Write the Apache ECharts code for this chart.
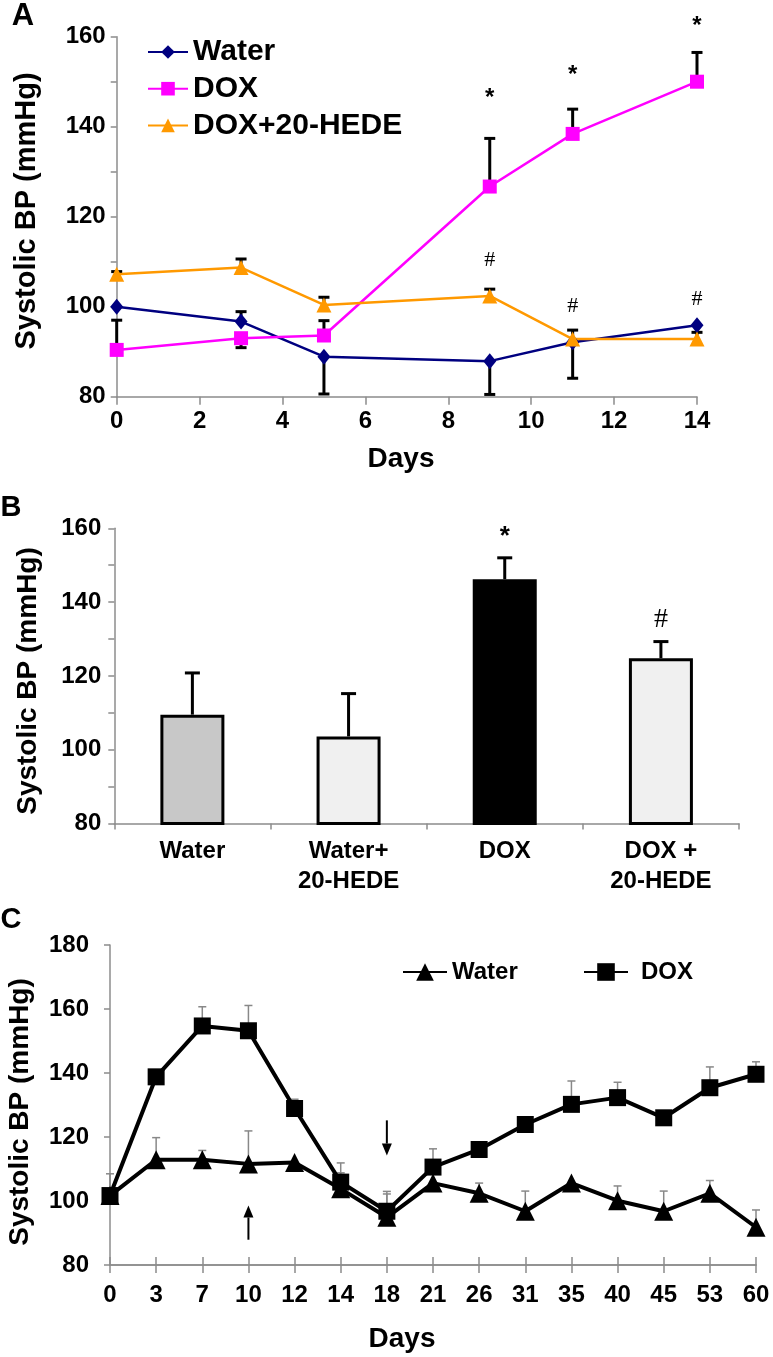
<!DOCTYPE html>
<html><head><meta charset="utf-8">
<script src="https://cdn.jsdelivr.net/npm/echarts@6/dist/echarts.min.js"></script>
<style>html,body{margin:0;padding:0;background:#fff}#c{width:773px;height:1357px}</style>
</head><body><div id="c"></div>
<script>
// ---------- Panel A data ----------
const A_xTicks = [0, 2, 4, 6, 8, 10, 12, 14];
const A_yTicks = [80, 100, 120, 140, 160];
const A_days = [0, 3, 5, 9, 11, 14];
const A_water = [100.0, 96.7, 88.9, 87.9, 92.1, 95.9];
const A_dox = [90.4, 93.0, 93.6, 126.7, 138.4, 150.0];
const A_hede = [107.2, 108.7, 100.4, 102.4, 92.8, 92.8];
const A_waterErrEnd = [null, 98.9, 80.6, 80.5, 84.1, null];
const A_doxErrEnd = [97.0, 90.9, 96.9, 137.4, 143.9, 156.5];
const A_hedeErrEnd = [107.8, 110.6, 102.1, 103.9, 94.8, 94.3];
const A_starDays = [9, 11, 14];
const A_starY = [146.3, 151.5, 162.2];
const A_hashDays = [9, 11, 14];
const A_hashY = [110.4, 100.0, 101.6];

// ---------- Panel B data ----------
const B_yTicks = [80, 100, 120, 140, 160];
const B_groups = ['Water', 'Water+\n20-HEDE', 'DOX', 'DOX +\n20-HEDE'];
const B_means = [109.5, 103.6, 146.2, 124.8];
const B_errTop = [120.8, 115.2, 152.0, 129.3];
const B_starIdx = [2];
const B_starY = [157.6];
const B_hashIdx = [3];
const B_hashY = [135.2];

// ---------- Panel C data ----------
const C_yTicks = [80, 100, 120, 140, 160, 180];
const C_days = ['0', '3', '7', '10', '12', '14', '18', '21', '26', '31', '35', '40', '45', '53', '60'];
const C_water = [101.7, 112.9, 112.9, 111.6, 112.0, 103.8, 94.9, 105.6, 102.4, 96.8, 105.6, 100.1, 96.8, 102.4, 91.8];
const C_dox = [101.7, 138.8, 154.7, 153.2, 128.9, 105.9, 96.8, 110.6, 116.1, 123.9, 130.2, 132.3, 126.0, 135.4, 139.6];
const C_waterErrTop = [108.5, 119.8, 115.8, 121.9, null, 108.8, 102.2, null, 105.6, 103.1, null, 104.7, 103.1, 106.4, 97.2];
const C_doxErrTop = [null, null, 160.7, 161.1, 131.8, 111.9, 103.0, 116.3, null, null, 137.5, 137.1, null, 141.9, 143.5];
const C_arrowIdx = [6, 3];
const C_arrowFrom = [125.2, 87.9];
const C_arrowTo = [114.2, 98.6];

// ---------- styles ----------
const FF = '"Liberation Sans", Arial, Helvetica, sans-serif';
const AX = '#8c8c8c';
const NAVY = '#000080', MAG = '#ff00ff', ORG = '#ff9900';
const B_fill = ['#c8c8c8', '#f0f0f0', '#000000', '#f0f0f0'];

function pairs(xs, ys) { return xs.map((x, i) => [x, ys[i]]); }
function errData(xs, base, end) {
  const out = [];
  xs.forEach((x, i) => { if (end[i] != null) out.push([x, base[i], end[i]]); });
  return out;
}
function errRender(color, lw, capW) {
  return function (params, api) {
    const p0 = api.coord([api.value(0), api.value(1)]);
    const p1 = api.coord([api.value(0), api.value(2)]);
    return { type: 'group', children: [
      { type: 'line', shape: { x1: p0[0], y1: p0[1], x2: p1[0], y2: p1[1] }, style: { stroke: color, lineWidth: lw } },
      { type: 'line', shape: { x1: p1[0] - capW / 2, y1: p1[1], x2: p1[0] + capW / 2, y2: p1[1] }, style: { stroke: color, lineWidth: lw } }
    ]};
  };
}
function textRender(txt, font) {
  return function (params, api) {
    const p = api.coord([api.value(0), api.value(1)]);
    return { type: 'text', x: p[0], y: p[1], style: { text: txt, font: font, fill: '#000', align: 'center', verticalAlign: 'middle' } };
  };
}
function arrowRender(params, api) {
  const p0 = api.coord([api.value(0), api.value(1)]);
  const p1 = api.coord([api.value(0), api.value(2)]);
  const dir = p1[1] > p0[1] ? 1 : -1;
  const hl = 12, hw = 5;
  return { type: 'group', children: [
    { type: 'line', shape: { x1: p0[0], y1: p0[1], x2: p1[0], y2: p1[1] - dir * hl }, style: { stroke: '#000', lineWidth: 2 } },
    { type: 'polygon', shape: { points: [[p1[0], p1[1]], [p1[0] - hw, p1[1] - dir * hl], [p1[0] + hw, p1[1] - dir * hl]] }, style: { fill: '#000' } }
  ]};
}
function yAxisCfg(grid, ticks, margin, minor) {
  return {
    type: 'value', gridIndex: grid, min: ticks[0], max: ticks[ticks.length - 1], interval: ticks[1] - ticks[0],
    axisLine: { show: true, lineStyle: { color: AX, width: 1.5 } },
    axisTick: { show: true, length: 6, lineStyle: { color: AX, width: 1.5 } },
    minorTick: { show: minor, splitNumber: 2, length: 6, lineStyle: { color: AX, width: 1.5 } },
    splitLine: { show: false }, minorSplitLine: { show: false },
    axisLabel: { margin: margin, color: '#000', fontFamily: FF, fontWeight: 'bold', fontSize: 24 }
  };
}

const chart = echarts.init(document.getElementById('c'), null, { renderer: 'canvas', width: 773, height: 1357 });

const option = {
  animation: false,
  backgroundColor: '#fff',
  grid: [
    { left: 116.7, top: 36.7, width: 580.3, height: 360 },
    { left: 114.3, top: 528.3, width: 624.7, height: 295.2 },
    { left: 110, top: 945, width: 646, height: 320 }
  ],
  xAxis: [
    { type: 'value', gridIndex: 0, min: A_xTicks[0], max: A_xTicks[A_xTicks.length - 1], interval: A_xTicks[1] - A_xTicks[0],
      axisLine: { show: true, onZero: false, lineStyle: { color: AX, width: 1.5 } },
      axisTick: { show: true, length: 8, lineStyle: { color: AX, width: 1.5 } },
      splitLine: { show: false },
      axisLabel: { margin: 13, color: '#000', fontFamily: FF, fontWeight: 'bold', fontSize: 24 } },
    { type: 'category', gridIndex: 1, data: B_groups, boundaryGap: true,
      axisLine: { show: true, onZero: false, lineStyle: { color: AX, width: 1.5 } },
      axisTick: { show: true, length: 6, lineStyle: { color: AX, width: 1.5 } },
      axisLabel: { margin: 13, color: '#000', fontFamily: FF, fontWeight: 'bold', fontSize: 24, lineHeight: 30, interval: 0 } },
    { type: 'category', gridIndex: 2, data: C_days, boundaryGap: false,
      axisLine: { show: true, onZero: false, lineStyle: { color: AX, width: 1.5 } },
      axisTick: { show: true, length: 8, interval: 0, lineStyle: { color: AX, width: 1.5 } },
      axisLabel: { margin: 18, interval: 0, color: '#000', fontFamily: FF, fontWeight: 'bold', fontSize: 24 } },
    { type: 'category', gridIndex: 2, data: C_days, boundaryGap: false, position: 'bottom',
      axisLine: { show: true, onZero: false, lineStyle: { color: AX, width: 1.5 } },
      axisTick: { show: true, inside: true, length: 8, interval: 0, lineStyle: { color: AX, width: 1.5 } },
      axisLabel: { show: false } }
  ],
  yAxis: [
    yAxisCfg(0, A_yTicks, 11, true),
    yAxisCfg(1, B_yTicks, 13, true),
    yAxisCfg(2, C_yTicks, 21, false)
  ],
  legend: [
    { data: ['Water', 'DOX', 'DOX+20-HEDE'], orient: 'vertical', left: 142, top: 32, itemWidth: 40, itemHeight: 17, itemGap: 6.7,
      textStyle: { fontFamily: FF, fontWeight: 'bold', fontSize: 30, color: '#000', lineHeight: 30 } },
    { data: ['C-Water'], left: 397, top: 955, itemWidth: 44, itemHeight: 22,
      formatter: n => n.replace('C-', ''),
      textStyle: { fontFamily: FF, fontWeight: 'bold', fontSize: 24, color: '#000' } },
    { data: ['C-DOX'], left: 578, top: 955, itemWidth: 44, itemHeight: 22,
      formatter: n => n.replace('C-', ''),
      textStyle: { fontFamily: FF, fontWeight: 'bold', fontSize: 24, color: '#000', padding: [0, 0, 0, 8] } }
  ],
  series: [
    // Panel A error bars
    { type: 'custom', xAxisIndex: 0, yAxisIndex: 0, renderItem: errRender('#000', 3, 11), data: errData(A_days, A_water, A_waterErrEnd), z: 1, silent: true },
    { type: 'custom', xAxisIndex: 0, yAxisIndex: 0, renderItem: errRender('#000', 3, 11), data: errData(A_days, A_dox, A_doxErrEnd), z: 1, silent: true },
    { type: 'custom', xAxisIndex: 0, yAxisIndex: 0, renderItem: errRender('#000', 3, 11), data: errData(A_days, A_hede, A_hedeErrEnd), z: 1, silent: true },
    // Panel A lines
    { name: 'Water', type: 'line', xAxisIndex: 0, yAxisIndex: 0, data: pairs(A_days, A_water), symbol: 'diamond', symbolSize: [13, 16],
      lineStyle: { color: NAVY, width: 2.5 }, itemStyle: { color: NAVY }, z: 3 },
    { name: 'DOX', type: 'line', xAxisIndex: 0, yAxisIndex: 0, data: pairs(A_days, A_dox), symbol: 'rect', symbolSize: 14,
      lineStyle: { color: MAG, width: 2.5 }, itemStyle: { color: MAG }, z: 3 },
    { name: 'DOX+20-HEDE', type: 'line', xAxisIndex: 0, yAxisIndex: 0, data: pairs(A_days, A_hede), symbol: 'triangle', symbolSize: 15,
      lineStyle: { color: ORG, width: 2.5 }, itemStyle: { color: ORG }, z: 3 },
    // Panel A significance marks
    { type: 'custom', xAxisIndex: 0, yAxisIndex: 0, renderItem: textRender('*', 'bold 24px "Liberation Sans", Arial'), data: pairs(A_starDays, A_starY), clip: false, z: 5 },
    { type: 'custom', xAxisIndex: 0, yAxisIndex: 0, renderItem: textRender('#', '22px "Liberation Serif", "Times New Roman", serif'), data: pairs(A_hashDays, A_hashY), clip: false, z: 5 },

    // Panel B bars
    { type: 'bar', xAxisIndex: 1, yAxisIndex: 1, barWidth: 64,
      data: B_means.map((v, i) => ({ value: v, itemStyle: { color: B_fill[i], borderColor: '#000', borderWidth: 3 } })), z: 2 },
    { type: 'custom', xAxisIndex: 1, yAxisIndex: 1, renderItem: errRender('#000', 3, 15), data: B_means.map((v, i) => [i, v, B_errTop[i]]), z: 3 },
    { type: 'custom', xAxisIndex: 1, yAxisIndex: 1, renderItem: textRender('*', 'bold 26px "Liberation Sans", Arial'), data: pairs(B_starIdx, B_starY), clip: false, z: 5 },
    { type: 'custom', xAxisIndex: 1, yAxisIndex: 1, renderItem: textRender('#', '28px "Liberation Serif", "Times New Roman", serif'), data: pairs(B_hashIdx, B_hashY), clip: false, z: 5 },

    // Panel C error bars
    { type: 'custom', xAxisIndex: 2, yAxisIndex: 2, renderItem: errRender('#888', 1.5, 8), data: errData(C_days.map((d, i) => i), C_water, C_waterErrTop), z: 1 },
    { type: 'custom', xAxisIndex: 2, yAxisIndex: 2, renderItem: errRender('#888', 1.5, 8), data: errData(C_days.map((d, i) => i), C_dox, C_doxErrTop), z: 1 },
    // Panel C lines
    { name: 'C-DOX', type: 'line', xAxisIndex: 2, yAxisIndex: 2, data: C_dox, symbol: 'rect', symbolSize: 17,
      lineStyle: { color: '#000', width: 4 }, itemStyle: { color: '#000' }, z: 3 },
    { name: 'C-Water', type: 'line', xAxisIndex: 2, yAxisIndex: 2, data: C_water, symbol: 'triangle', symbolSize: 19,
      lineStyle: { color: '#000', width: 4 }, itemStyle: { color: '#000' }, z: 3 },
    // Panel C arrows
    { type: 'custom', xAxisIndex: 2, yAxisIndex: 2, renderItem: arrowRender, data: C_arrowIdx.map((x, i) => [x, C_arrowFrom[i], C_arrowTo[i]]), z: 4 }
  ],
  graphic: [
    { type: 'text', x: 23, y: 16, style: { text: 'A', font: 'bold 31px ' + FF, fill: '#000', align: 'center', verticalAlign: 'middle' } },
    { type: 'text', x: 11, y: 508, style: { text: 'B', font: 'bold 29px ' + FF, fill: '#000', align: 'center', verticalAlign: 'middle' } },
    { type: 'text', x: 11, y: 920, style: { text: 'C', font: 'bold 29px ' + FF, fill: '#000', align: 'center', verticalAlign: 'middle' } },
    { type: 'text', x: 27, y: 211, rotation: Math.PI / 2, style: { text: 'Systolic BP (mmHg)', font: 'bold 29px ' + FF, fill: '#000', align: 'center', verticalAlign: 'middle' } },
    { type: 'text', x: 28, y: 681, rotation: Math.PI / 2, style: { text: 'Systolic BP (mmHg)', font: 'bold 28px ' + FF, fill: '#000', align: 'center', verticalAlign: 'middle' } },
    { type: 'text', x: 20, y: 1112, rotation: Math.PI / 2, style: { text: 'Systolic BP (mmHg)', font: 'bold 28px ' + FF, fill: '#000', align: 'center', verticalAlign: 'middle' } },
    { type: 'text', x: 401, y: 459, style: { text: 'Days', font: 'bold 28px ' + FF, fill: '#000', align: 'center', verticalAlign: 'middle' } },
    { type: 'text', x: 402, y: 1339, style: { text: 'Days', font: 'bold 28px ' + FF, fill: '#000', align: 'center', verticalAlign: 'middle' } }
  ]
};
chart.setOption(option);
</script>
</body></html>
